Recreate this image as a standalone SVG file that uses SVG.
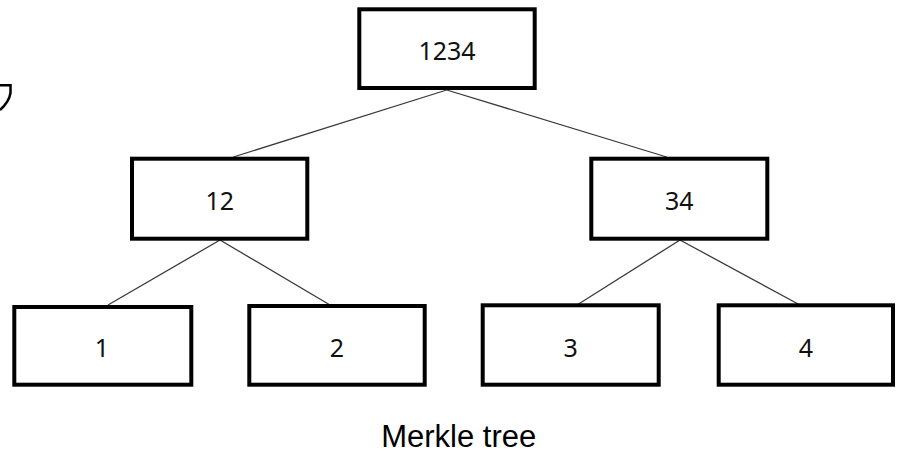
<svg xmlns="http://www.w3.org/2000/svg" width="901" height="453" viewBox="0 0 901 453">
<style>
.box{fill:#fff;stroke:#000;stroke-width:4}
.lbl{font-family:"Noto Sans","DejaVu Sans",sans-serif;font-size:25px;fill:#111;text-anchor:middle}
.edge{stroke:#3a3a3a;stroke-width:1.3;fill:none}
.cap{font-family:"Liberation Sans",Arial,sans-serif;font-size:31px;fill:#000;text-anchor:middle}
</style>
<rect width="901" height="453" fill="#fff"/>
<path d="M0,85.3 H10.5 V93 Q9,102 0,110" fill="none" stroke="#000" stroke-width="2.5"/>
<g id="connectors">
<line class="edge" x1="446.7" y1="90" x2="233.3" y2="157"/>
<line class="edge" x1="446.7" y1="90" x2="666.7" y2="157"/>
<line class="edge" x1="220" y1="240" x2="108" y2="305"/>
<line class="edge" x1="220" y1="240" x2="330" y2="305"/>
<line class="edge" x1="680" y1="240" x2="577" y2="305"/>
<line class="edge" x1="680" y1="240" x2="800" y2="305"/>
</g>
<g id="n1234"><rect class="box" x="359.3" y="9.3" width="175.4" height="78.7"/><text class="lbl" x="447" y="60">1234</text></g>
<g id="n12"><rect class="box" x="132" y="158.7" width="175.3" height="80"/><text class="lbl" x="219.7" y="210">12</text></g>
<g id="n34"><rect class="box" x="591.3" y="158.7" width="176" height="80"/><text class="lbl" x="679.3" y="210">34</text></g>
<g id="n1"><rect class="box" x="14.3" y="307" width="177" height="77.7"/><text class="lbl" x="102" y="356.5">1</text></g>
<g id="n2"><rect class="box" x="249.3" y="306" width="175.4" height="78.7"/><text class="lbl" x="337" y="356.5">2</text></g>
<g id="n3"><rect class="box" x="482.7" y="305.3" width="176" height="79.4"/><text class="lbl" x="570.7" y="356.5">3</text></g>
<g id="n4"><rect class="box" x="718.7" y="305.3" width="174.3" height="79.4"/><text class="lbl" x="806" y="356.5">4</text></g>
<text class="cap" x="458.7" y="446.7">Merkle tree</text>
</svg>
